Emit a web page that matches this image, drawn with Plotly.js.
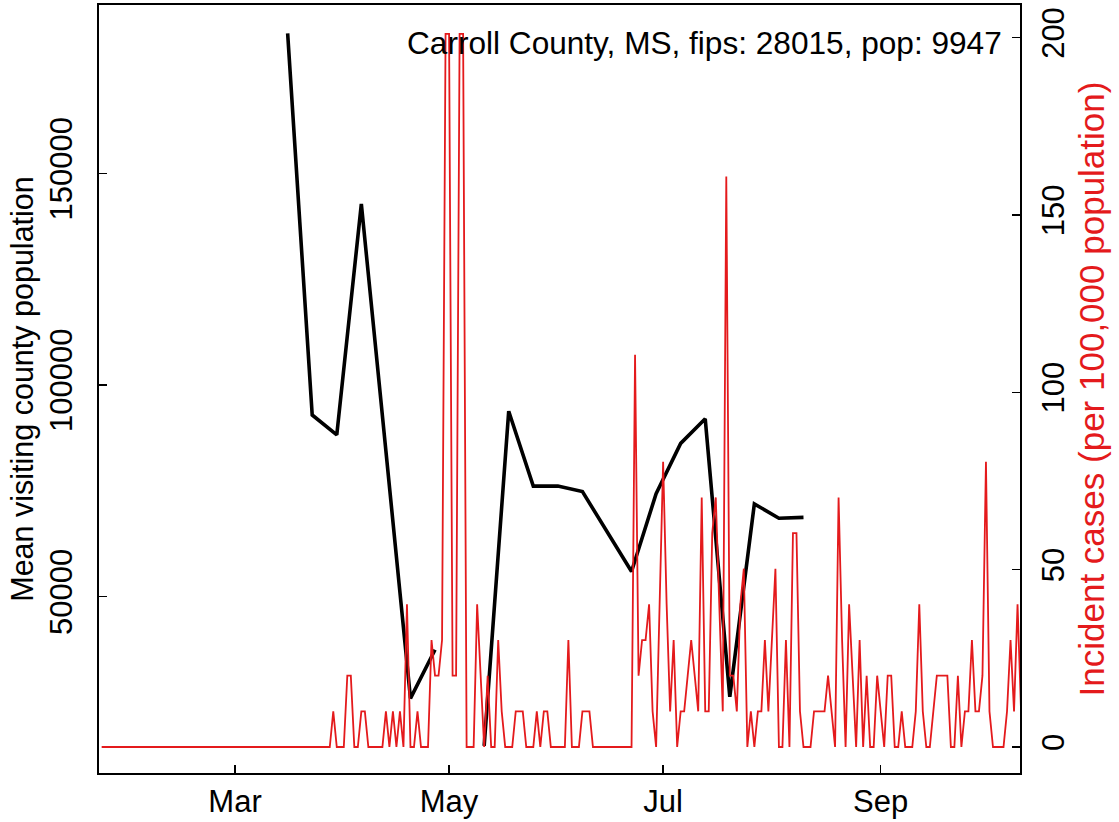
<!DOCTYPE html>
<html>
<head>
<meta charset="utf-8">
<script src="https://cdn.plot.ly/plotly-3.0.1.min.js"></script>
<style>html,body{margin:0;padding:0;background:#fff;}#chart{width:1119px;height:822px;}</style>
</head>
<body>
<div id="chart"></div>
<script>
// ---- data ----
var chartTitle = "Carroll County, MS, fips: 28015, pop: 9947";

// weekly mean visiting county population (null = missing week)
var visitDates = ["2020-03-16","2020-03-23","2020-03-30","2020-04-06","2020-04-13","2020-04-20","2020-04-27",
  "2020-05-04","2020-05-11","2020-05-18","2020-05-25","2020-06-01","2020-06-08","2020-06-15","2020-06-22",
  "2020-06-29","2020-07-06","2020-07-13","2020-07-20","2020-07-27","2020-08-03","2020-08-10"];
var visitPop = [183100, 92900, 88200, 142800, 84400, 25900, 37400,
  null, 14700, 93800, 76100, 76100, 74800, 65300, 55900,
  74300, 86200, 92000, 26300, 71900, 68500, 68700];

// daily incident cases per 100,000 population, starting 2020-01-23
var caseStart = "2020-01-23";
var incidentPer100k = [
  // Jan 23 - Feb 29
  0,0,0,0,0,0,0,0,0,0, 0,0,0,0,0,0,0,0,0,0, 0,0,0,0,0,0,0,0,0,0, 0,0,0,0,0,0,0,0,
  // Mar 1 - Mar 31
  0,0,0,0,0,0,0,0,0,0, 0,0,0,0,0,0,0,0,0,0, 0,0,0,0,0,0,0,0,10.05,0, 0,
  // Apr 1 - Apr 30
  0,20.11,20.11,0,0,10.05,10.05,0,0,0, 0,0,10.05,0,10.05,0,10.05,0,40.21,0, 0,10.05,0,0,0,30.16,20.11,20.11,30.16,201.07,
  // May 1 - May 31
  201.07,20.11,20.11,201.07,201.07,0,0,0,40.21,20.11, 0,20.11,0,0,30.16,10.05,0,0,0,10.05, 10.05,10.05,0,0,0,10.05,0,10.05,10.05,0, 0,
  // Jun 1 - Jun 30
  0,0,0,30.16,0,0,0,10.05,10.05,10.05, 0,0,0,0,0,0,0,0,0,0, 0,0,110.59,20.11,30.16,30.16,40.21,10.05,0,40.21,
  // Jul 1 - Jul 31
  80.43,40.21,10.05,30.16,0,10.05,10.05,20.11,30.16,20.11, 10.05,70.37,10.05,10.05,60.32,70.37,40.21,10.05,160.85,20.11, 20.11,10.05,40.21,50.27,0,10.05,0,10.05,10.05,30.16, 10.05,
  // Aug 1 - Aug 31
  30.16,50.27,0,0,30.16,0,60.32,60.32,10.05,0, 0,0,10.05,10.05,10.05,10.05,20.11,10.05,0,70.37, 30.16,0,40.21,20.11,0,30.16,0,20.11,0,0, 20.11,
  // Sep 1 - Sep 30
  10.05,0,20.11,20.11,0,0,10.05,0,0,0, 10.05,40.21,10.05,0,0,10.05,20.11,20.11,20.11,20.11, 0,0,20.11,0,10.05,10.05,30.16,10.05,10.05,20.11,
  // Oct 1 - Oct 10
  80.43,10.05,0,0,0,0,10.05,30.16,10.05,40.21, 10.05
];

// tick labels
var xTickVals = ["2020-03-01","2020-05-01","2020-07-01","2020-09-01"];
var xTickText = ["Mar","May","Jul","Sep"];
var leftTickVals = [50000, 100000, 150000];
var rightTickVals = [0, 50, 100, 150, 200];

// ---- build daily dates ----
var caseDates = [];
(function(){
  var d0 = new Date(caseStart + "T00:00:00Z");
  for (var i = 0; i < incidentPer100k.length; i++) {
    var d = new Date(d0.getTime() + i * 86400000);
    caseDates.push(d.toISOString().slice(0,10));
  }
})();

var FONT = "Liberation Sans, Arial, Helvetica, sans-serif";
var RED = "#E41A1C";

var traces = [
  {x: caseDates, y: incidentPer100k, type: "scatter", mode: "lines", yaxis: "y2",
   line: {color: RED, width: 1.8}, hoverinfo: "x+y", showlegend: false},
  {x: visitDates, y: visitPop, type: "scatter", mode: "lines", connectgaps: false,
   line: {color: "#000000", width: 3.6}, showlegend: false}
];

var layout = {
  width: 1119, height: 822,
  margin: {l: 99, r: 99, t: 5, b: 49, pad: 0},
  paper_bgcolor: "#ffffff", plot_bgcolor: "#ffffff",
  font: {family: FONT, size: 31, color: "#000000"},
  showlegend: false,
  xaxis: {
    type: "date",
    range: ["2020-01-22 05:45", "2020-10-10 16:48"],
    tickmode: "array", tickvals: xTickVals, ticktext: xTickText,
    ticks: "inside", ticklen: 8, tickwidth: 1.5, tickcolor: "#000",
    showline: true, linecolor: "#000", linewidth: 1.6, mirror: true,
    showgrid: false, zeroline: false,
    tickfont: {family: FONT, size: 31, color: "#000"},
    ticklabelstandoff: 0
  },
  yaxis: {
    range: [8270, 189830],
    tickmode: "array", tickvals: leftTickVals, ticktext: leftTickVals.map(String),
    tickangle: -90,
    ticks: "inside", ticklen: 8, tickwidth: 1.5, tickcolor: "#000",
    showline: true, linecolor: "#000", linewidth: 1.6, mirror: true,
    showgrid: false, zeroline: false,
    tickfont: {family: FONT, size: 31, color: "#000"},
    ticklabelstandoff: 13,
    title: {text: "Mean visiting county population", font: {family: FONT, size: 30.5, color: "#000"}, standoff: 1}
  },
  yaxis2: {
    overlaying: "y", side: "right",
    range: [-7.33, 209.2],
    tickmode: "array", tickvals: rightTickVals, ticktext: rightTickVals.map(String),
    tickangle: -90,
    ticks: "inside", ticklen: 8, tickwidth: 1.5, tickcolor: "#000",
    showline: true, linecolor: "#000", linewidth: 1.6,
    showgrid: false, zeroline: false,
    tickfont: {family: FONT, size: 31, color: "#000"},
    ticklabelstandoff: 5,
    title: {text: "Incident cases (per 100,000 population)", font: {family: FONT, size: 35, color: RED}, standoff: 10}
  },
  annotations: [{
    text: chartTitle, xref: "paper", yref: "paper",
    x: 0.983, y: 0.9505, xanchor: "right", yanchor: "middle",
    showarrow: false, font: {family: FONT, size: 31.6, color: "#000"}
  }]
};

Plotly.newPlot("chart", traces, layout, {staticPlot: true, displayModeBar: false});
</script>
</body>
</html>
